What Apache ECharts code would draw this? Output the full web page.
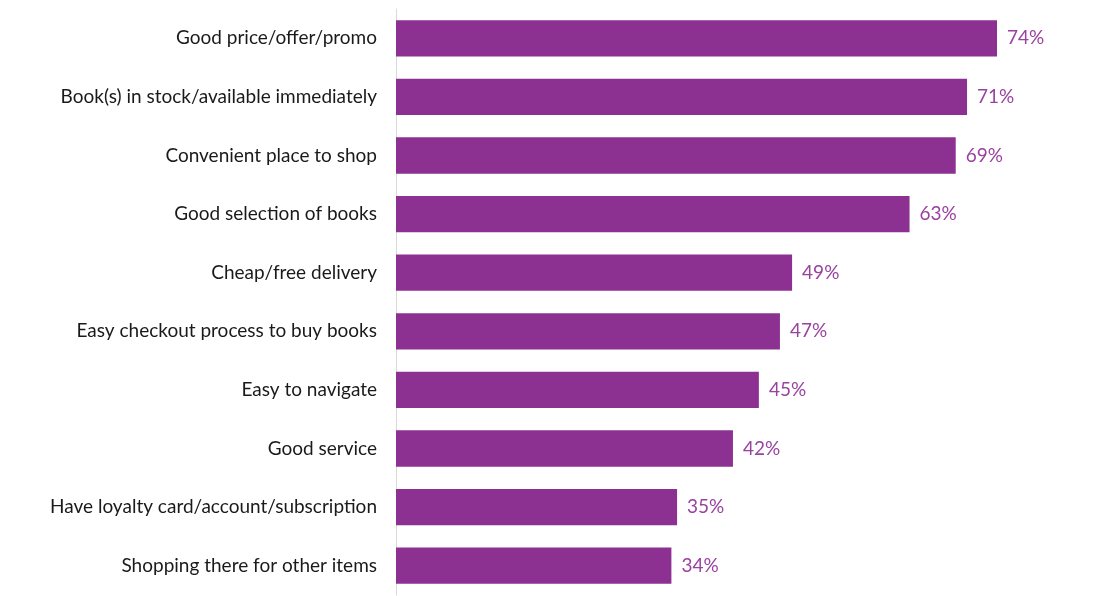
<!DOCTYPE html>
<html>
<head>
<meta charset="utf-8">
<script src="https://cdn.jsdelivr.net/npm/echarts@6/dist/echarts.min.js"></script>
<style>
  html, body { margin: 0; padding: 0; background: #fff; }
  #chart { width: 1107px; height: 596px; }
</style>
</head>
<body>
<div id="chart"></div>
<script>
// categories top to bottom
var reasons = [
  'Good price/offer/promo',
  'Book(s) in stock/available immediately',
  'Convenient place to shop',
  'Good selection of books',
  'Cheap/free delivery',
  'Easy checkout process to buy books',
  'Easy to navigate',
  'Good service',
  'Have loyalty card/account/subscription',
  'Shopping there for other items'
];
// bar lengths (labels show them rounded)
var shares = [74.2, 70.5, 69.1, 63.4, 48.9, 47.4, 44.8, 41.6, 34.7, 34.0];

var chart = echarts.init(document.getElementById('chart'));
var option = {
  animation: false,
  grid: { left: 396, right: 63, top: 9, bottom: 1 },
  xAxis: {
    type: 'value',
    min: 0,
    max: 80,
    show: false
  },
  yAxis: {
    type: 'category',
    inverse: true,
    data: reasons,
    axisLine: { lineStyle: { color: '#d9d9d9', width: 1 } },
    axisTick: { show: false },
    axisLabel: {
      margin: 19,
      color: '#1a1a1a',
      fontSize: 19,
      fontFamily: 'Lato'
    }
  },
  series: [{
    type: 'bar',
    data: shares,
    barCategoryGap: '38%',
    itemStyle: { color: '#8c3192' },
    label: {
      show: true,
      position: 'right',
      distance: 10,
      formatter: function (p) { return Math.round(p.value) + '%'; },
      color: '#9a42a0',
      fontSize: 19,
      fontFamily: 'Lato'
    }
  }]
};
chart.setOption(option);
</script>
</body>
</html>
